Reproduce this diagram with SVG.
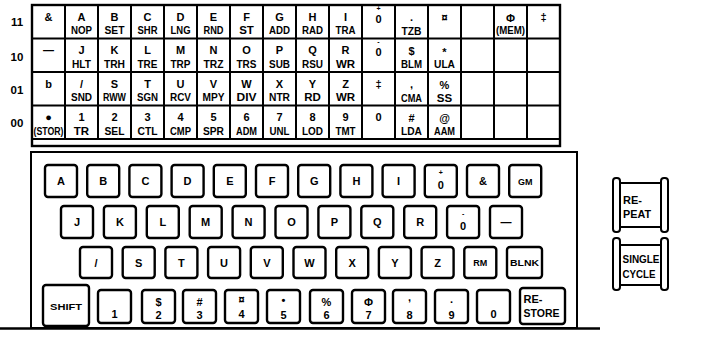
<svg xmlns="http://www.w3.org/2000/svg" width="707" height="339" viewBox="0 0 707 339">
<style>
text{font-family:"Liberation Sans",Arial,sans-serif;font-weight:bold;fill:#000}
.t{font-size:11px;text-anchor:middle}
.m{font-size:11.5px;text-anchor:middle}
.s{font-size:7px;text-anchor:middle}
.lab{font-size:11.5px;text-anchor:middle}
.kl{font-size:11px;text-anchor:middle}
.ks{font-size:9px;text-anchor:middle}
.sw{font-size:11px}
.g{stroke:#000;stroke-width:2;fill:none}
.key{fill:#fff;stroke:#000;stroke-width:2.4}
.bar{fill:#fff;stroke:#000;stroke-width:2}
</style>
<rect width="707" height="339" fill="#fff"/>
<g id="row-labels">
<text class="lab" x="17" y="26">11</text>
<text class="lab" x="17" y="61">10</text>
<text class="lab" x="17" y="94">01</text>
<text class="lab" x="17" y="127">00</text>
</g>
<g id="grid" class="g">
<rect x="32" y="5" width="528" height="141" stroke-width="2.4"/>
<path d="M32 38.5H560M32 72H560M32 105.5H560M32 139H560"/>
<path d="M65 5V139M98 5V139M131 5V139M164 5V139M197 5V139M230 5V139M263 5V139M296 5V139M329 5V139M362 5V139M395 5V139M428 5V139M461 5V139M494 5V139M527 5V139"/>
</g>
<g id="cell-11-0"><text class="t" x="48.5" y="20.5">&amp;</text></g>
<g id="cell-11-1"><text class="t" x="81.5" y="20.5">A</text><text class="m" x="81.5" y="34" textLength="21" lengthAdjust="spacingAndGlyphs">NOP</text></g>
<g id="cell-11-2"><text class="t" x="114.5" y="20.5">B</text><text class="m" x="114.5" y="34" textLength="20" lengthAdjust="spacingAndGlyphs">SET</text></g>
<g id="cell-11-3"><text class="t" x="147.5" y="20.5">C</text><text class="m" x="147.5" y="34" textLength="20" lengthAdjust="spacingAndGlyphs">SHR</text></g>
<g id="cell-11-4"><text class="t" x="180.5" y="20.5">D</text><text class="m" x="180.5" y="34" textLength="20" lengthAdjust="spacingAndGlyphs">LNG</text></g>
<g id="cell-11-5"><text class="t" x="213.5" y="20.5">E</text><text class="m" x="213.5" y="34" textLength="20" lengthAdjust="spacingAndGlyphs">RND</text></g>
<g id="cell-11-6"><text class="t" x="246.5" y="20.5">F</text><text class="m" x="246.5" y="34">ST</text></g>
<g id="cell-11-7"><text class="t" x="279.5" y="20.5">G</text><text class="m" x="279.5" y="34" textLength="21" lengthAdjust="spacingAndGlyphs">ADD</text></g>
<g id="cell-11-8"><text class="t" x="312.5" y="20.5">H</text><text class="m" x="312.5" y="34" textLength="21" lengthAdjust="spacingAndGlyphs">RAD</text></g>
<g id="cell-11-9"><text class="t" x="345.5" y="20.5">I</text><text class="m" x="345.5" y="34" textLength="20" lengthAdjust="spacingAndGlyphs">TRA</text></g>
<g id="cell-11-10"><text class="s" x="378.5" y="10.5">+</text><text class="t" x="378.5" y="22.5">0</text></g>
<g id="cell-11-11"><text class="t" x="411.5" y="21">.</text><text class="m" x="411.5" y="35" textLength="20" lengthAdjust="spacingAndGlyphs">TZB</text></g>
<g id="cell-11-12"><text class="t" x="444.5" y="20.5">¤</text></g>
<g id="cell-11-14"><text class="t" x="510.5" y="22" font-size="13">Φ</text><text class="m" x="510.5" y="34" font-size="9.5" textLength="29" lengthAdjust="spacingAndGlyphs">(MEM)</text></g>
<g id="cell-11-15"><text class="t" x="543.5" y="20.5">‡</text></g>
<g id="cell-10-0"><text class="t" x="48.5" y="54">—</text></g>
<g id="cell-10-1"><text class="t" x="81.5" y="54">J</text><text class="m" x="81.5" y="67.5" textLength="19" lengthAdjust="spacingAndGlyphs">HLT</text></g>
<g id="cell-10-2"><text class="t" x="114.5" y="54">K</text><text class="m" x="114.5" y="67.5" textLength="21" lengthAdjust="spacingAndGlyphs">TRH</text></g>
<g id="cell-10-3"><text class="t" x="147.5" y="54">L</text><text class="m" x="147.5" y="67.5" textLength="20" lengthAdjust="spacingAndGlyphs">TRE</text></g>
<g id="cell-10-4"><text class="t" x="180.5" y="54">M</text><text class="m" x="180.5" y="67.5" textLength="20" lengthAdjust="spacingAndGlyphs">TRP</text></g>
<g id="cell-10-5"><text class="t" x="213.5" y="54">N</text><text class="m" x="213.5" y="67.5" textLength="20" lengthAdjust="spacingAndGlyphs">TRZ</text></g>
<g id="cell-10-6"><text class="t" x="246.5" y="54">O</text><text class="m" x="246.5" y="67.5" textLength="20" lengthAdjust="spacingAndGlyphs">TRS</text></g>
<g id="cell-10-7"><text class="t" x="279.5" y="54">P</text><text class="m" x="279.5" y="67.5" textLength="21" lengthAdjust="spacingAndGlyphs">SUB</text></g>
<g id="cell-10-8"><text class="t" x="312.5" y="54">Q</text><text class="m" x="312.5" y="67.5" textLength="21" lengthAdjust="spacingAndGlyphs">RSU</text></g>
<g id="cell-10-9"><text class="t" x="345.5" y="54">R</text><text class="m" x="345.5" y="67.5">WR</text></g>
<g id="cell-10-10"><text class="s" x="378.5" y="43.5">-</text><text class="t" x="378.5" y="56">0</text></g>
<g id="cell-10-11"><text class="t" x="411.5" y="55">$</text><text class="m" x="411.5" y="68" textLength="21" lengthAdjust="spacingAndGlyphs">BLM</text></g>
<g id="cell-10-12"><text class="t" x="444.5" y="56">*</text><text class="m" x="444.5" y="68" textLength="21" lengthAdjust="spacingAndGlyphs">ULA</text></g>
<g id="cell-01-0"><text class="t" x="48.5" y="87.5">b</text></g>
<g id="cell-01-1"><text class="t" x="81.5" y="87.5">/</text><text class="m" x="81.5" y="101" textLength="21" lengthAdjust="spacingAndGlyphs">SND</text></g>
<g id="cell-01-2"><text class="t" x="114.5" y="87.5">S</text><text class="m" x="114.5" y="101" textLength="23" lengthAdjust="spacingAndGlyphs">RWW</text></g>
<g id="cell-01-3"><text class="t" x="147.5" y="87.5">T</text><text class="m" x="147.5" y="101" textLength="21" lengthAdjust="spacingAndGlyphs">SGN</text></g>
<g id="cell-01-4"><text class="t" x="180.5" y="87.5">U</text><text class="m" x="180.5" y="101" textLength="21" lengthAdjust="spacingAndGlyphs">RCV</text></g>
<g id="cell-01-5"><text class="t" x="213.5" y="87.5">V</text><text class="m" x="213.5" y="101" textLength="22" lengthAdjust="spacingAndGlyphs">MPY</text></g>
<g id="cell-01-6"><text class="t" x="246.5" y="87.5">W</text><text class="m" x="246.5" y="101" textLength="20" lengthAdjust="spacingAndGlyphs">DIV</text></g>
<g id="cell-01-7"><text class="t" x="279.5" y="87.5">X</text><text class="m" x="279.5" y="101" textLength="21" lengthAdjust="spacingAndGlyphs">NTR</text></g>
<g id="cell-01-8"><text class="t" x="312.5" y="87.5">Y</text><text class="m" x="312.5" y="101">RD</text></g>
<g id="cell-01-9"><text class="t" x="345.5" y="87.5">Z</text><text class="m" x="345.5" y="101">WR</text></g>
<g id="cell-01-10"><text class="t" x="378.5" y="87.5">‡</text></g>
<g id="cell-01-11"><text class="t" x="411.5" y="88">,</text><text class="m" x="411.5" y="101.5" textLength="21" lengthAdjust="spacingAndGlyphs">CMA</text></g>
<g id="cell-01-12"><text class="t" x="444.5" y="89">%</text><text class="m" x="444.5" y="101.5">SS</text></g>
<g id="cell-00-0"><text class="t" x="48.5" y="121">●</text><text class="m" x="48.5" y="134.5" font-size="9.5" textLength="30" lengthAdjust="spacingAndGlyphs">(STOR)</text></g>
<g id="cell-00-1"><text class="t" x="81.5" y="121">1</text><text class="m" x="81.5" y="134.5">TR</text></g>
<g id="cell-00-2"><text class="t" x="114.5" y="121">2</text><text class="m" x="114.5" y="134.5" textLength="20" lengthAdjust="spacingAndGlyphs">SEL</text></g>
<g id="cell-00-3"><text class="t" x="147.5" y="121">3</text><text class="m" x="147.5" y="134.5" textLength="20" lengthAdjust="spacingAndGlyphs">CTL</text></g>
<g id="cell-00-4"><text class="t" x="180.5" y="121">4</text><text class="m" x="180.5" y="134.5" textLength="21" lengthAdjust="spacingAndGlyphs">CMP</text></g>
<g id="cell-00-5"><text class="t" x="213.5" y="121">5</text><text class="m" x="213.5" y="134.5" textLength="21" lengthAdjust="spacingAndGlyphs">SPR</text></g>
<g id="cell-00-6"><text class="t" x="246.5" y="121">6</text><text class="m" x="246.5" y="134.5" textLength="21" lengthAdjust="spacingAndGlyphs">ADM</text></g>
<g id="cell-00-7"><text class="t" x="279.5" y="121">7</text><text class="m" x="279.5" y="134.5" textLength="20" lengthAdjust="spacingAndGlyphs">UNL</text></g>
<g id="cell-00-8"><text class="t" x="312.5" y="121">8</text><text class="m" x="312.5" y="134.5" textLength="21" lengthAdjust="spacingAndGlyphs">LOD</text></g>
<g id="cell-00-9"><text class="t" x="345.5" y="121">9</text><text class="m" x="345.5" y="134.5" textLength="20" lengthAdjust="spacingAndGlyphs">TMT</text></g>
<g id="cell-00-10"><text class="t" x="378.5" y="121">0</text></g>
<g id="cell-00-11"><text class="t" x="411.5" y="122">#</text><text class="m" x="411.5" y="134.5" textLength="21" lengthAdjust="spacingAndGlyphs">LDA</text></g>
<g id="cell-00-12"><text class="t" x="444.5" y="122">@</text><text class="m" x="444.5" y="134.5" textLength="21" lengthAdjust="spacingAndGlyphs">AAM</text></g>
<g id="connectors"></g>
<g id="keyboard-frame">
<rect x="31" y="152" width="546" height="176" fill="none" stroke="#000" stroke-width="2"/>
<line x1="0" y1="328.5" x2="600" y2="328.5" stroke="#000" stroke-width="2.5"/>
</g>
<g id="key-A"><rect class="key" x="45" y="165" width="32" height="32" rx="3"/><text class="kl" x="61" y="185">A</text></g>
<g id="key-B"><rect class="key" x="87.2" y="165" width="32" height="32" rx="3"/><text class="kl" x="103.2" y="185">B</text></g>
<g id="key-C"><rect class="key" x="129.4" y="165" width="32" height="32" rx="3"/><text class="kl" x="145.4" y="185">C</text></g>
<g id="key-D"><rect class="key" x="171.6" y="165" width="32" height="32" rx="3"/><text class="kl" x="187.6" y="185">D</text></g>
<g id="key-E"><rect class="key" x="213.8" y="165" width="32" height="32" rx="3"/><text class="kl" x="229.8" y="185">E</text></g>
<g id="key-F"><rect class="key" x="256" y="165" width="32" height="32" rx="3"/><text class="kl" x="272" y="185">F</text></g>
<g id="key-G"><rect class="key" x="298.2" y="165" width="32" height="32" rx="3"/><text class="kl" x="314.2" y="185">G</text></g>
<g id="key-H"><rect class="key" x="340.4" y="165" width="32" height="32" rx="3"/><text class="kl" x="356.4" y="185">H</text></g>
<g id="key-I"><rect class="key" x="382.6" y="165" width="32" height="32" rx="3"/><text class="kl" x="398.6" y="185">I</text></g>
<g id="key-plus0"><rect class="key" x="424.8" y="165" width="32" height="32" rx="3"/><text class="s" x="440.8" y="175">+</text><text class="kl" x="440.8" y="189">0</text></g>
<g id="key-amp"><rect class="key" x="467" y="165" width="32" height="32" rx="3"/><text class="kl" x="483" y="185">&amp;</text></g>
<g id="key-GM"><rect class="key" x="509.2" y="165" width="32" height="32" rx="3"/><text class="ks" x="525.2" y="184.5">GM</text></g>
<g id="key-J"><rect class="key" x="61" y="206" width="32" height="32" rx="3"/><text class="kl" x="77" y="226">J</text></g>
<g id="key-K"><rect class="key" x="103.9" y="206" width="32" height="32" rx="3"/><text class="kl" x="119.9" y="226">K</text></g>
<g id="key-L"><rect class="key" x="146.8" y="206" width="32" height="32" rx="3"/><text class="kl" x="162.8" y="226">L</text></g>
<g id="key-M"><rect class="key" x="189.7" y="206" width="32" height="32" rx="3"/><text class="kl" x="205.7" y="226">M</text></g>
<g id="key-N"><rect class="key" x="232.6" y="206" width="32" height="32" rx="3"/><text class="kl" x="248.6" y="226">N</text></g>
<g id="key-O"><rect class="key" x="275.5" y="206" width="32" height="32" rx="3"/><text class="kl" x="291.5" y="226">O</text></g>
<g id="key-P"><rect class="key" x="318.4" y="206" width="32" height="32" rx="3"/><text class="kl" x="334.4" y="226">P</text></g>
<g id="key-Q"><rect class="key" x="361.3" y="206" width="32" height="32" rx="3"/><text class="kl" x="377.3" y="226">Q</text></g>
<g id="key-R"><rect class="key" x="404.2" y="206" width="32" height="32" rx="3"/><text class="kl" x="420.2" y="226">R</text></g>
<g id="key-minus0"><rect class="key" x="447.1" y="206" width="32" height="32" rx="3"/><text class="s" x="463.1" y="216">-</text><text class="kl" x="463.1" y="230">0</text></g>
<g id="key-dash"><rect class="key" x="490" y="206" width="32" height="32" rx="3"/><text class="kl" x="506" y="226">—</text></g>
<g id="key-slash"><rect class="key" x="80" y="247" width="32" height="31" rx="3"/><text class="kl" x="96" y="266.5">/</text></g>
<g id="key-S"><rect class="key" x="122.7" y="247" width="32" height="31" rx="3"/><text class="kl" x="138.7" y="266.5">S</text></g>
<g id="key-T"><rect class="key" x="165.4" y="247" width="32" height="31" rx="3"/><text class="kl" x="181.4" y="266.5">T</text></g>
<g id="key-U"><rect class="key" x="208.1" y="247" width="32" height="31" rx="3"/><text class="kl" x="224.1" y="266.5">U</text></g>
<g id="key-V"><rect class="key" x="250.8" y="247" width="32" height="31" rx="3"/><text class="kl" x="266.8" y="266.5">V</text></g>
<g id="key-W"><rect class="key" x="293.5" y="247" width="32" height="31" rx="3"/><text class="kl" x="309.5" y="266.5">W</text></g>
<g id="key-X"><rect class="key" x="336.2" y="247" width="32" height="31" rx="3"/><text class="kl" x="352.2" y="266.5">X</text></g>
<g id="key-Y"><rect class="key" x="378.9" y="247" width="32" height="31" rx="3"/><text class="kl" x="394.9" y="266.5">Y</text></g>
<g id="key-Z"><rect class="key" x="421.6" y="247" width="32" height="31" rx="3"/><text class="kl" x="437.6" y="266.5">Z</text></g>
<g id="key-RM"><rect class="key" x="464.3" y="247" width="32" height="31" rx="3"/><text class="ks" x="480.3" y="266">RM</text></g>
<g id="key-BLNK"><rect class="key" x="507" y="247" width="35" height="31" rx="3"/><text class="ks" x="524.5" y="266" textLength="29" lengthAdjust="spacingAndGlyphs">BLNK</text></g>
<g id="key-SHIFT"><rect class="key" x="43" y="285" width="46" height="41" rx="3"/><text class="ks" x="66" y="309.5" font-size="10" textLength="32" lengthAdjust="spacingAndGlyphs">SHIFT</text></g>
<g id="key-1"><rect class="key" x="98" y="290" width="33" height="33" rx="3"/><text class="kl" x="114.5" y="318">1</text></g>
<g id="key-2"><rect class="key" x="142" y="290" width="33" height="33" rx="3"/><text class="kl" x="158.5" y="306">$</text><text class="kl" x="158.5" y="319">2</text></g>
<g id="key-3"><rect class="key" x="183" y="290" width="33" height="33" rx="3"/><text class="kl" x="199.5" y="306">#</text><text class="kl" x="199.5" y="319">3</text></g>
<g id="key-4"><rect class="key" x="225" y="290" width="33" height="33" rx="3"/><text class="kl" x="241.5" y="303">¤</text><text class="kl" x="241.5" y="318">4</text></g>
<g id="key-5"><rect class="key" x="267" y="290" width="33" height="33" rx="3"/><text class="kl" x="283.5" y="304">•</text><text class="kl" x="283.5" y="319">5</text></g>
<g id="key-6"><rect class="key" x="310" y="290" width="33" height="33" rx="3"/><text class="kl" x="326.5" y="306">%</text><text class="kl" x="326.5" y="319">6</text></g>
<g id="key-7"><rect class="key" x="352" y="290" width="33" height="33" rx="3"/><text class="kl" x="368.5" y="306" font-size="14">Φ</text><text class="kl" x="368.5" y="319">7</text></g>
<g id="key-8"><rect class="key" x="393" y="290" width="33" height="33" rx="3"/><text class="kl" x="409.5" y="301">,</text><text class="kl" x="409.5" y="319">8</text></g>
<g id="key-9"><rect class="key" x="435" y="290" width="33" height="33" rx="3"/><text class="kl" x="451.5" y="303">.</text><text class="kl" x="451.5" y="319">9</text></g>
<g id="key-0"><rect class="key" x="477" y="290" width="33" height="33" rx="3"/><text class="kl" x="493.5" y="318">0</text></g>
<g id="key-RESTORE"><rect class="key" x="520" y="288" width="45" height="36" rx="3"/><text class="sw" x="523.5" y="303">RE-</text><text class="sw" x="523.5" y="317" textLength="36" lengthAdjust="spacingAndGlyphs">STORE</text></g>
<g id="switch-REPEAT">
<path d="M620 183H661M620 227H661" stroke="#000" stroke-width="2" fill="none"/>
<rect class="bar" x="613" y="178" width="7" height="54" rx="3"/>
<rect class="bar" x="661" y="178" width="7" height="54" rx="3"/>
<text class="sw" x="623" y="204">RE-</text>
<text class="sw" x="623" y="218" textLength="28" lengthAdjust="spacingAndGlyphs">PEAT</text>
</g>
<g id="switch-SINGLE-CYCLE">
<path d="M620 245H661M620 285H661" stroke="#000" stroke-width="2" fill="none"/>
<rect class="bar" x="613" y="238" width="7" height="52" rx="3"/>
<rect class="bar" x="661" y="238" width="7" height="52" rx="3"/>
<text class="sw" x="622.5" y="263" textLength="37" lengthAdjust="spacingAndGlyphs">SINGLE</text>
<text class="sw" x="622.5" y="277.5" textLength="33" lengthAdjust="spacingAndGlyphs">CYCLE</text>
</g>
</svg>
